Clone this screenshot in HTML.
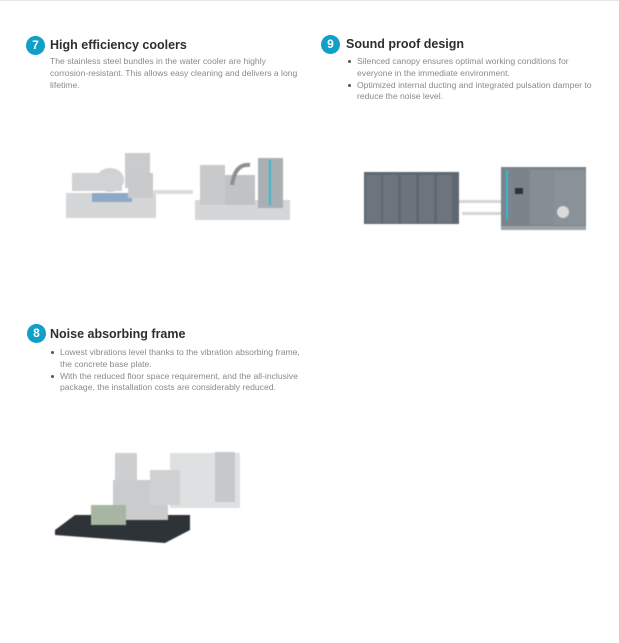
<!DOCTYPE html>
<html><head><meta charset="utf-8"><style>
*{margin:0;padding:0;box-sizing:border-box}
body{width:619px;height:643px;background:#fff;position:relative;overflow:hidden;font-family:"Liberation Sans",sans-serif}
.top{position:absolute;left:0;top:0;width:619px;height:1px;background:#e6e6e6}
.c{position:absolute;width:19px;height:19px;border-radius:50%;background:#0f9fc8;color:#fff;font-weight:bold;font-size:12px;text-align:center;line-height:19px}
.t{position:absolute;font-weight:bold;font-size:12.5px;color:#2a2f33;white-space:nowrap}
.p{position:absolute;font-size:8.6px;line-height:11.8px;color:#8a8a8a;white-space:nowrap}
.b{position:absolute;font-size:8.6px;line-height:11.8px;color:#8a8a8a;padding-left:10px;white-space:nowrap}
.b div{position:relative}
.b div:before{content:"";position:absolute;left:-9px;top:4px;width:3px;height:3px;border-radius:50%;background:#555}
svg{position:absolute;filter:blur(0.6px)}
</style></head><body>
<div class="top"></div>

<div class="c" style="left:26px;top:36px">7</div>
<div class="t" style="left:50px;top:38px">High efficiency coolers</div>
<div class="p" style="left:50px;top:56px">The stainless steel bundles in the water cooler are highly<br>corrosion-resistant. This allows easy cleaning and delivers a long<br>lifetime.</div>

<div class="c" style="left:321px;top:35px">9</div>
<div class="t" style="left:346px;top:37px">Sound proof design</div>
<div class="b" style="left:347px;top:56px">
<div>Silenced canopy ensures optimal working conditions for<br>everyone in the immediate environment.</div>
<div>Optimized internal ducting and integrated pulsation damper to<br>reduce the noise level.</div>
</div>

<div class="c" style="left:27px;top:324px">8</div>
<div class="t" style="left:50px;top:327px">Noise absorbing frame</div>
<div class="b" style="left:50px;top:347px">
<div>Lowest vibrations level thanks to the vibration absorbing frame,<br>the concrete base plate.</div>
<div>With the reduced floor space requirement, and the all-inclusive<br>package, the installation costs are considerably reduced.</div>
</div>

<svg style="left:60px;top:145px" width="240" height="85">
<rect x="6" y="48" width="90" height="25" fill="#d4d6d8"/>
<rect x="65" y="8" width="25" height="35" fill="#c9cbcd"/>
<ellipse cx="50" cy="35" rx="14" ry="12" fill="#cfd1d3"/>
<rect x="12" y="28" width="50" height="18" fill="#d0d2d4"/>
<rect x="32" y="48" width="40" height="9" fill="#8fa8c4"/>
<rect x="68" y="28" width="25" height="25" fill="#c8cacc"/>
<rect x="93" y="45" width="40" height="4" fill="#dcdcdc"/>
<rect x="135" y="55" width="95" height="20" fill="#d4d6d8"/>
<rect x="140" y="20" width="25" height="40" fill="#c7c9cb"/>
<rect x="165" y="30" width="30" height="30" fill="#bfc3c3"/>
<path d="M172 40 Q175 18 190 20" stroke="#8d9092" stroke-width="4" fill="none"/>
<rect x="198" y="13" width="25" height="50" fill="#a9afb3"/>
<rect x="209" y="15" width="2" height="45" fill="#3cb8cc"/>
</svg>

<svg style="left:350px;top:150px" width="250" height="90">
<rect x="14" y="22" width="95" height="52" fill="#5f6770"/>
<g fill="#6c747d"><rect x="16" y="25" width="15" height="48"/><rect x="33" y="25" width="15" height="48"/><rect x="51" y="25" width="15" height="48"/><rect x="69" y="25" width="15" height="48"/><rect x="87" y="25" width="15" height="48"/></g>
<rect x="109" y="50" width="45" height="3" fill="#d6d6d6"/>
<rect x="112" y="62" width="40" height="3" fill="#d6d6d6"/>
<rect x="151" y="17" width="85" height="60" fill="#7b838b"/>
<rect x="180" y="20" width="25" height="55" fill="#858d95"/>
<rect x="205" y="20" width="30" height="55" fill="#8a9299"/>
<rect x="156" y="20" width="2" height="50" fill="#35b9d9"/>
<rect x="165" y="38" width="8" height="6" fill="#2d3236"/>
<circle cx="213" cy="62" r="6" fill="#d8dadc"/>
<rect x="151" y="76" width="85" height="4" fill="#9ca2a8"/>
</svg>

<svg style="left:55px;top:440px" width="200" height="110">
<path d="M0 90 L20 75 L135 75 L135 90 L110 103 L0 95 Z" fill="#2e3338"/>
<rect x="115" y="13" width="70" height="55" fill="#dfe0e1"/>
<rect x="60" y="13" width="22" height="35" fill="#cdcfd0"/>
<rect x="58" y="40" width="55" height="40" fill="#c9cbcd"/>
<rect x="95" y="30" width="30" height="35" fill="#cfd1d3"/>
<rect x="36" y="65" width="35" height="20" fill="#a7b6a3"/>
<rect x="160" y="12" width="20" height="50" fill="#c5c9cc"/>
</svg>
</body></html>
